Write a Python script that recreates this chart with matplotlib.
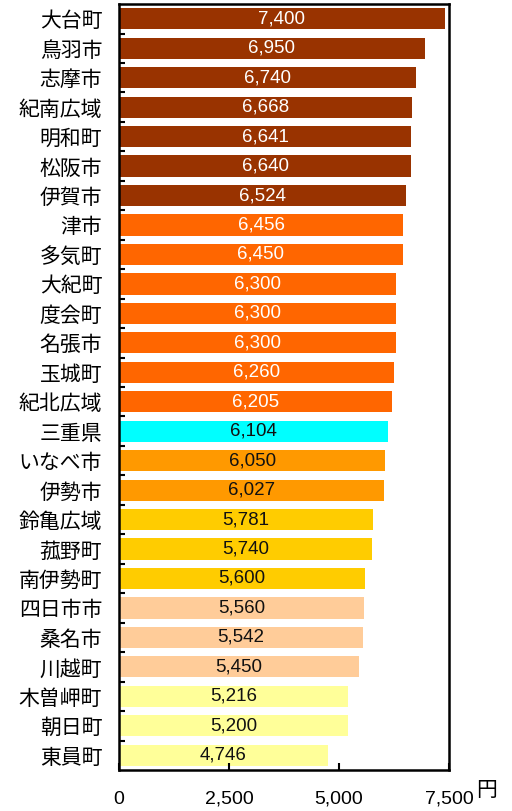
import numpy as np
import matplotlib.pyplot as plt

plt.rcParams['font.family'] = ['Noto Sans CJK JP', 'DejaVu Sans']

# 地域別の料金（円）
areas = ['大台町', '鳥羽市', '志摩市', '紀南広域', '明和町', '松阪市', '伊賀市',
         '津市', '多気町', '大紀町', '度会町', '名張市', '玉城町', '紀北広域',
         '三重県', 'いなべ市', '伊勢市', '鈴亀広域', '菰野町', '南伊勢町',
         '四日市市', '桑名市', '川越町', '木曽岬町', '朝日町', '東員町']
values = [7400, 6950, 6740, 6668, 6641, 6640, 6524,
          6456, 6450, 6300, 6300, 6300, 6260, 6205,
          6104, 6050, 6027, 5781, 5740, 5600,
          5560, 5542, 5450, 5216, 5200, 4746]
groups = [0] * 7 + [1] * 7 + [2] + [3] * 2 + [4] * 3 + [5] * 3 + [6] * 3

group_colors = ['#993300', '#FF6600', '#00FFFF', '#FF9900', '#FFCC00', '#FFCC99', '#FFFF99']
text_colors = ['white', 'white', '#111111', '#111111', '#111111', '#111111', '#111111']

fig = plt.figure(figsize=(5.12, 8.11), dpi=100)
ax = fig.add_axes([0.2324, 0.0506, 0.6445, 0.9444])

y = np.arange(len(areas))
colors = [group_colors[g] for g in groups]
ax.barh(y, values, height=0.72, color=colors)

for yi, v, g in zip(y, values, groups):
    ax.text(v / 2, yi, f'{v:,}', ha='center', va='center',
            fontsize=13.5, color=text_colors[g], family=['Liberation Sans', 'DejaVu Sans'])

ax.set_ylim(len(areas) - 0.5, -0.5)
ax.set_xlim(0, 7500)

ax.set_yticks(y)
ax.set_yticklabels(areas, fontsize=15)
ax.set_yticks(np.arange(len(areas) - 1) + 0.5, minor=True)
ax.tick_params(axis='y', which='major', length=0, pad=12)
ax.tick_params(axis='y', which='minor', direction='in', length=4, width=1.5)

ax.set_xticks([0, 2500, 5000, 7500])
ax.set_xticklabels(['0', '2,500', '5,000', '7,500'], fontsize=14,
                   family=['Liberation Sans', 'DejaVu Sans'])
ax.tick_params(axis='x', direction='in', length=5, width=1.5, pad=15)

for s in ax.spines.values():
    s.set_linewidth(1.8)

fig.text(0.951, 0.026, '円', fontsize=15, ha='center', va='center')

fig.savefig('out.png', dpi=100)
